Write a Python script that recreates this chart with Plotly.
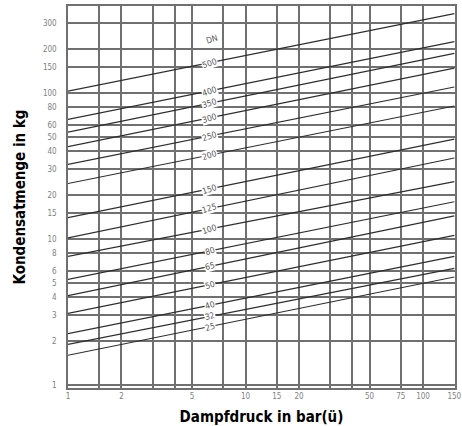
"""Kondensatmenge beim Anfahren von Dampfleitungen (DN 25 ... DN 500)."""

import math

import plotly.graph_objects as go

# ── Daten ────────────────────────────────────────────────

dn = [25, 32, 40, 50, 65, 80, 100, 125, 150, 200, 250, 300, 350, 400, 500]
# Kondensatmenge (kg) bei 1 bar(ü) und bei 150 bar(ü)
kg_at_1 = [1.6, 1.9, 2.25, 3.1, 4.1, 5.3, 7.6, 10.2, 14, 24, 32.5, 43, 54, 66, 103]
kg_at_150 = [5.5, 6.3, 7.6, 10.6, 14.4, 18, 24.7, 35.9, 48.4, 81.5, 110, 148, 187, 225, 350]
pressure_ends = [1, 150]

x_grid = [1, 1.5, 2, 3, 4, 5, 7.5, 10, 15, 20, 30, 40, 50, 75, 100, 150]
x_labels = ["1", "", "2", "", "", "5", "", "10", "15", "20", "", "", "50", "75", "100", "150"]
y_grid = [1, 2, 3, 4, 5, 6, 8, 10, 15, 20, 30, 40, 50, 60, 80, 100, 150, 200, 300]

# ── Stil ─────────────────────────────────────────────────

_TITLE_FONT = dict(family="Liberation Sans Narrow, DejaVu Sans Condensed, Arial Narrow",
                   size=15, color="#000000")
_TICK_FONT = dict(family="Liberation Sans Narrow, DejaVu Sans Condensed", size=8, color="#808080")
_LABEL_FONT = dict(family="Liberation Sans Narrow, DejaVu Sans Condensed", size=8.5, color="#555555")
_GRID = "#707070"
_LINE = "#2e2e2e"
LABEL_X = 6.3

fig = go.Figure()

for d, a, b in zip(dn, kg_at_1, kg_at_150):
    fig.add_trace(go.Scatter(
        x=pressure_ends,
        y=[a, b],
        mode="lines",
        line=dict(color=_LINE, width=1.2),
        name=f"DN {d}",
        showlegend=False,
    ))
    # Beschriftung auf der Linie
    t = math.log10(LABEL_X) / math.log10(pressure_ends[1])
    y_lab = 10 ** (math.log10(a) + (math.log10(b) - math.log10(a)) * t)
    fig.add_annotation(
        x=math.log10(LABEL_X), y=math.log10(y_lab),
        text=f"{d}", showarrow=False,
        textangle=-17, bgcolor="white", borderpad=0,
        font=_LABEL_FONT,
    )

fig.add_annotation(
    x=math.log10(6.5), y=math.log10(235), text="DN", showarrow=False,
    textangle=-17, font=_LABEL_FONT,
)

fig.update_layout(
    width=462,
    height=426,
    paper_bgcolor="white",
    plot_bgcolor="white",
    margin=dict(l=68, r=7, t=6, b=38),
    xaxis=dict(
        type="log",
        range=[0, 2.18],
        tickvals=x_grid,
        ticktext=x_labels,
        tickfont=_TICK_FONT,
        showgrid=True,
        gridcolor=_GRID,
        gridwidth=1.5,
        showline=True,
        linecolor=_GRID,
        linewidth=1.5,
        mirror=True,
        ticks="",
        zeroline=False,
        automargin=False,
        title=dict(text="<b>Dampfdruck in bar(ü)</b>", font=_TITLE_FONT, standoff=11),
    ),
    yaxis=dict(
        type="log",
        range=[-0.02, 2.596],
        tickvals=y_grid,
        ticktext=[str(v) for v in y_grid],
        tickfont=_TICK_FONT,
        showgrid=True,
        gridcolor=_GRID,
        gridwidth=1.5,
        showline=True,
        linecolor=_GRID,
        linewidth=1.5,
        mirror=True,
        ticks="outside",
        ticklen=8,
        tickcolor="white",
        zeroline=False,
        automargin=False,
        title=dict(text="<b>Kondensatmenge in kg</b>", font=_TITLE_FONT, standoff=14),
    ),
)

# Seite ohne Body-Rand, damit die Grafik bei (0,0) beginnt
fig.write_html(
    "out.html",
    config={"displayModeBar": False},
    post_script="document.body.style.margin='0';",
)
